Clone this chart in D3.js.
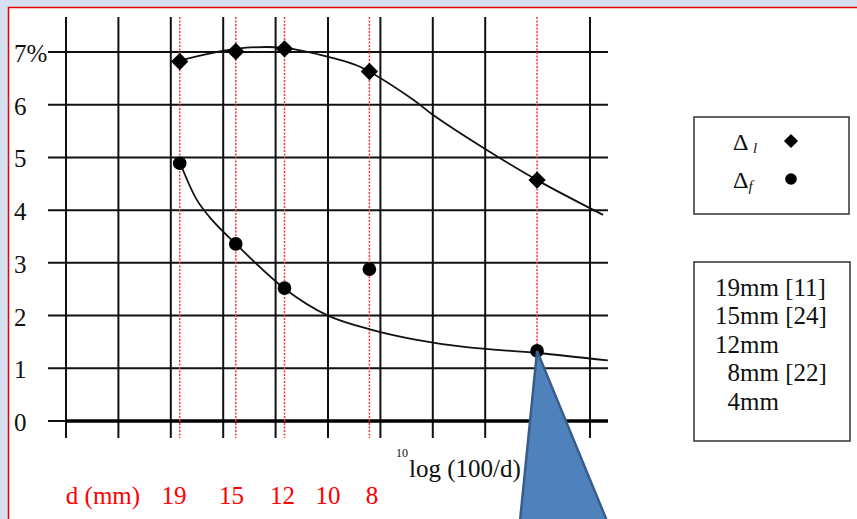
<!DOCTYPE html>
<html>
<head>
<meta charset="utf-8">
<script src="https://cdn.jsdelivr.net/npm/d3@7/dist/d3.min.js"></script>
<style>
  html, body { margin: 0; padding: 0; background: #d5e1f0; }
  svg { display: block; font-family: "Liberation Serif", "DejaVu Serif", serif; }
</style>
</head>
<body>
<svg width="857" height="519"></svg>
<script>
// grid positions in log10(100/d) units, and % values
var gridX = [0.5, 0.6, 0.7, 0.8, 0.9, 1.0, 1.1, 1.2, 1.3, 1.5];
var yTicks = [0, 1, 2, 3, 4, 5, 6, 7];

var dMarks = [19, 15, 12, 8, 4];
var dMarkPos = [0.717, 0.824, 0.917, 1.079, 1.399];
var dLabels = ["19", "15", "12", "10", "8"];
var dLabelPos = [0.706, 0.816, 0.913, 1.0, 1.084];

// series values
var deltaL = [6.82, 7.01, 7.06, 6.63, 4.57];
var deltaF = [4.89, 3.36, 2.52, 2.88, 1.33];

// fitted curves
var curveLx = [0.718, 0.824, 0.916, 1.004, 1.061, 1.162, 1.200, 1.300, 1.399, 1.525];
var curveLy = [6.84, 7.06, 7.08, 6.90, 6.72, 6.10, 5.81, 5.16, 4.57, 3.91];
var curveFx = [0.718, 0.750, 0.779, 0.824, 0.916, 1.000, 1.080, 1.164, 1.264, 1.399, 1.534];
var curveFy = [4.89, 4.19, 3.81, 3.36, 2.52, 2.00, 1.74, 1.55, 1.40, 1.29, 1.15];

var legendItems = ["19mm [11]", "15mm [24]", "12mm", "  8mm [22]", "  4mm"];

var svg = d3.select("svg");

// page frame
svg.append("rect").attr("x", 8).attr("y", 7).attr("width", 849).attr("height", 512)
    .attr("fill", "#fff");
svg.append("path").attr("d", "M8.5,519V7.5H857")
    .attr("fill", "none").attr("stroke", "#e00").attr("stroke-width", 1.5);

var x = d3.scaleLinear().domain([0.5, 1.5]).range([66, 590]);
var y = d3.scaleLinear().domain([0, 7]).range([421, 52]);

var g = svg.append("g");

// vertical grid
g.selectAll(".vline").data(gridX).enter().append("line")
    .attr("x1", d => x(d)).attr("x2", d => x(d))
    .attr("y1", 17).attr("y2", 438)
    .attr("stroke", "#111").attr("stroke-width", 2);

// horizontal grid
g.selectAll(".hline").data(yTicks.slice(1)).enter().append("line")
    .attr("x1", 48).attr("x2", 608)
    .attr("y1", d => y(d)).attr("y2", d => y(d))
    .attr("stroke", "#111").attr("stroke-width", 2);

// zero line
g.append("line").attr("x1", 48).attr("x2", 66).attr("y1", y(0)).attr("y2", y(0))
    .attr("stroke", "#111").attr("stroke-width", 2);
g.append("line").attr("x1", 66).attr("x2", 608).attr("y1", y(0)).attr("y2", y(0))
    .attr("stroke", "#000").attr("stroke-width", 3.5);

// red dotted markers
g.selectAll(".dline").data(dMarkPos).enter().append("line")
    .attr("x1", d => x(d)).attr("x2", d => x(d))
    .attr("y1", 17).attr("y2", 438)
    .attr("stroke", "#f33").attr("stroke-width", 1.5)
    .attr("stroke-dasharray", "2,1.5");

// y labels
g.selectAll(".ylab").data(yTicks).enter().append("text")
    .attr("x", 14).attr("y", d => y(d) + 10)
    .attr("font-size", 25).attr("fill", "#111")
    .text(d => d === 7 ? "7%" : d);

// curves
var line = d3.line().x(d => x(d[0])).y(d => y(d[1])).curve(d3.curveCatmullRom.alpha(0.5));
var lPts = d3.zip(curveLx, curveLy);
var fPts = d3.zip(curveFx, curveFy);
g.append("path").attr("d", line(lPts)).attr("fill", "none").attr("stroke", "#111").attr("stroke-width", 1.8);
g.append("path").attr("d", line(fPts)).attr("fill", "none").attr("stroke", "#111").attr("stroke-width", 1.8);

// markers
var diamond = d3.symbol().type(d3.symbolSquare).size(150);
g.selectAll(".dl").data(deltaL).enter().append("path")
    .attr("d", diamond)
    .attr("transform", (d, i) => "translate(" + x(dMarkPos[i]) + "," + y(d) + ") rotate(45)")
    .attr("fill", "#000");
g.selectAll(".df").data(deltaF).enter().append("circle")
    .attr("cx", (d, i) => x(dMarkPos[i])).attr("cy", d => y(d)).attr("r", 6.8)
    .attr("fill", "#000");

// x axis title
var title = svg.append("text").attr("x", 396).attr("y", 477).attr("font-size", 25).attr("fill", "#111");
title.append("tspan").attr("font-size", 12).attr("dy", -20).text("10");
title.append("tspan").attr("dy", 20).attr("dx", 1).text("log (100/d)");

// red d labels
svg.append("text").attr("x", 103).attr("y", 504).attr("text-anchor", "middle")
    .attr("font-size", 25).attr("fill", "#f00").text("d (mm)");
svg.selectAll(".dlab").data(dLabels).enter().append("text")
    .attr("x", (d, i) => x(dLabelPos[i])).attr("y", 504).attr("text-anchor", "middle")
    .attr("font-size", 25).attr("fill", "#f00").text(d => d);

// legend boxes
var leg1 = svg.append("g");
leg1.append("rect").attr("x", 694).attr("y", 117).attr("width", 155).attr("height", 97)
    .attr("fill", "#fff").attr("stroke", "#333").attr("stroke-width", 1.5);
var t1 = leg1.append("text").attr("x", 733).attr("y", 150).attr("font-size", 24).attr("fill", "#111");
t1.append("tspan").text("\u0394 ");
t1.append("tspan").attr("font-style", "italic").attr("font-size", 15).attr("dy", 3).text("l");
var t2 = leg1.append("text").attr("x", 733).attr("y", 188).attr("font-size", 24).attr("fill", "#111");
t2.append("tspan").text("\u0394");
t2.append("tspan").attr("font-style", "italic").attr("font-size", 15).attr("dy", 3).text("f");
leg1.append("path").attr("d", d3.symbol().type(d3.symbolSquare).size(100))
    .attr("transform", "translate(791,141) rotate(45)").attr("fill", "#000");
leg1.append("circle").attr("cx", 791).attr("cy", 179).attr("r", 5.8).attr("fill", "#000");

var leg2 = svg.append("g");
leg2.append("rect").attr("x", 694).attr("y", 262).attr("width", 156).attr("height", 179)
    .attr("fill", "#fff").attr("stroke", "#333").attr("stroke-width", 1.5);
leg2.selectAll("text").data(legendItems).enter().append("text")
    .attr("x", 715).attr("y", (d, i) => 296 + i * 28.4)
    .attr("font-size", 25).attr("fill", "#111")
    .attr("xml:space", "preserve").style("white-space", "pre")
    .text(d => d);

// callout
var apex = [x(dMarkPos[4]), y(deltaF[4])];
svg.append("path")
    .attr("d", "M" + apex[0] + "," + apex[1] + "L607,521L520,521Z")
    .attr("fill", "#4f81bd").attr("stroke", "#385d8a").attr("stroke-width", 2.5)
    .attr("stroke-linejoin", "miter");
</script>
</body>
</html>
